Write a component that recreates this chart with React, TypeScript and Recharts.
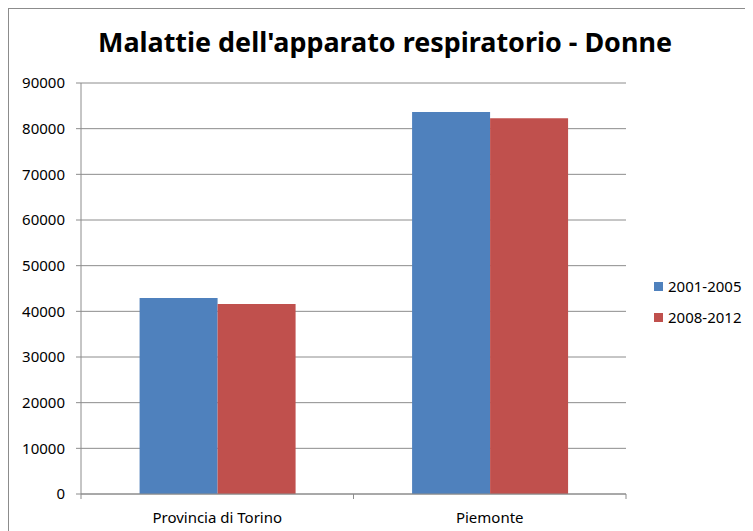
import { Bar, BarChart, CartesianGrid, XAxis, YAxis } from 'recharts'

const categories = ['Provincia di Torino', 'Piemonte']
const serie2001 = [42900, 83650]
const serie2008 = [41600, 82300]
const yTicks = [0, 10000, 20000, 30000, 40000, 50000, 60000, 70000, 80000, 90000]
const seriesNames = ['2001-2005', '2008-2012']
const seriesColors = ['#4f81bd', '#c0504d']
const title = "Malattie dell'apparato respiratorio - Donne"

const data = categories.map((name, i) => ({ name, a: serie2001[i], b: serie2008[i] }))

const FONT = '"Noto Sans", "Open Sans", sans-serif'
const GRID = '#8c8c8c'
const TICK_SIZE = 5
const TICK_MARGIN = 13

// category label + Excel-style tick marks on the category boundaries
function CategoryTick(props: any) {
  const { x, y, payload, index, visibleTicksCount, width } = props
  const band = width / visibleTicksCount
  const axisY = y - TICK_SIZE - TICK_MARGIN
  const left = x - band / 2
  const right = x + band / 2
  return (
    <g>
      <line x1={left} x2={left} y1={axisY} y2={axisY + TICK_SIZE} stroke={GRID} />
      {index === visibleTicksCount - 1 && (
        <line x1={right} x2={right} y1={axisY} y2={axisY + TICK_SIZE} stroke={GRID} />
      )}
      <text
        x={x}
        y={y}
        dy="0.71em"
        textAnchor="middle"
        style={{ fontFamily: FONT, fontSize: 15, fill: '#000' }}
      >
        {payload.value}
      </text>
    </g>
  )
}

function LegendBox() {
  return (
    <div
      style={{
        position: 'absolute',
        left: 645,
        top: 262,
        fontFamily: FONT,
        fontSize: 15,
        color: '#000',
      }}
    >
      {seriesNames.map((name, i) => (
        <div key={name} style={{ display: 'flex', alignItems: 'center', height: 31 }}>
          <span style={{ width: 9, height: 9, background: seriesColors[i], marginRight: 5 }} />
          <span style={{ lineHeight: '15px' }}>{name}</span>
        </div>
      ))}
    </div>
  )
}

export default function App() {
  return (
    <div
      style={{
        position: 'relative',
        width: 745,
        height: 523,
        borderLeft: `1px solid ${GRID}`,
        borderTop: `1px solid ${GRID}`,
        background: '#fff',
      }}
    >
      <svg width={745} height={60} style={{ position: 'absolute', left: 0, top: 0 }}>
        <text
          x={376}
          y={43}
          textAnchor="middle"
          textLength={574}
          lengthAdjust="spacingAndGlyphs"
          style={{ fontFamily: FONT, fontSize: 26, fontWeight: 700, fill: '#000' }}
        >
          {title}
        </text>
      </svg>
      <BarChart
        width={745}
        height={523}
        data={data}
        margin={{ top: 74, right: 128, bottom: 0, left: 0 }}
        barCategoryGap="21.5%"
        barGap={0}
      >
        <CartesianGrid horizontal vertical={false} stroke={GRID} />
        <XAxis
          dataKey="name"
          height={38}
          interval={0}
          axisLine={{ stroke: GRID }}
          tickLine={false}
          tickSize={TICK_SIZE}
          tickMargin={TICK_MARGIN}
          tick={<CategoryTick />}
        />
        <YAxis
          width={72}
          domain={[0, 90000]}
          ticks={yTicks}
          interval={0}
          axisLine={{ stroke: GRID }}
          tickLine={{ stroke: GRID }}
          tickSize={5}
          tickMargin={11}
          tick={{ fontFamily: FONT, fontSize: 15, fill: '#000' }}
        />
        <Bar dataKey="a" name={seriesNames[0]} fill={seriesColors[0]} isAnimationActive={false} />
        <Bar dataKey="b" name={seriesNames[1]} fill={seriesColors[1]} isAnimationActive={false} />
      </BarChart>
      <LegendBox />
    </div>
  )
}
